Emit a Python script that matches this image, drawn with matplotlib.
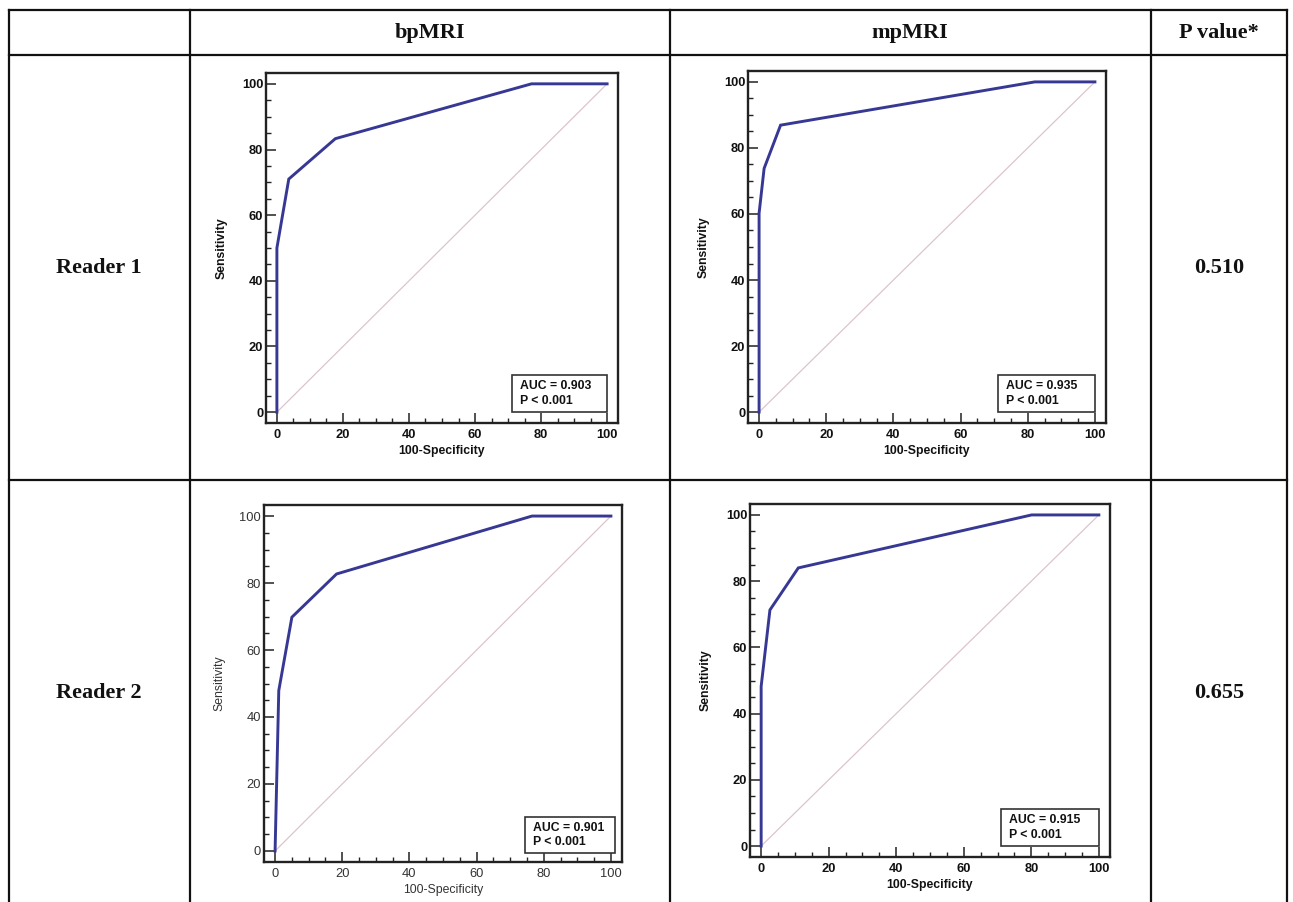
import matplotlib
matplotlib.use("Agg")
import matplotlib.pyplot as plt
from matplotlib.ticker import MultipleLocator
from matplotlib.patches import Rectangle
from matplotlib.lines import Line2D

# ---------------- data ----------------
col_headers = ["bpMRI", "mpMRI", "P value*"]
row_headers = ["Reader 1", "Reader 2"]
p_values = ["0.510", "0.655"]

r1_bp_fpr = [0, 0, 3.6, 17.7, 77.1, 100]
r1_bp_tpr = [0, 50, 71, 83.3, 100, 100]
r1_mp_fpr = [0, 0, 1.5, 6.4, 82.1, 100]
r1_mp_tpr = [0, 60.2, 73.8, 86.9, 100, 100]
r2_bp_fpr = [0, 1.1, 5.0, 18.3, 76.5, 100]
r2_bp_tpr = [0, 47.9, 69.8, 82.7, 100, 100]
r2_mp_fpr = [0, 0, 2.6, 11.0, 80.1, 100]
r2_mp_tpr = [0, 48.2, 71.3, 84.0, 100, 100]

auc_values = ["0.903", "0.935", "0.901", "0.915"]
auc_p = ["P < 0.001", "P < 0.001", "P < 0.001", "P < 0.001"]

x_ticks = [0, 20, 40, 60, 80, 100]
y_ticks = [0, 20, 40, 60, 80, 100]

# ---------------- figure ----------------
W, H = 1293, 902
fig = plt.figure(figsize=(W / 100, H / 100), dpi=100)
fig.patch.set_facecolor("white")

def fx(x):
    return x / W

def fy(y):
    return 1 - y / H

# table grid lines
tbl_kw = dict(color="#111111", lw=1.6, transform=fig.transFigure, zorder=0)
for y in [10, 55, 480]:
    fig.add_artist(Line2D([fx(9), fx(1287)], [fy(y), fy(y)], **tbl_kw))
for x in [9, 190, 670, 1151, 1287]:
    fig.add_artist(Line2D([fx(x), fx(x)], [fy(10), fy(902)], **tbl_kw))

serif = ["Liberation Serif", "DejaVu Serif"]
hdr_kw = dict(fontfamily=serif, fontweight="bold", fontsize=16, ha="center",
              va="center", color="#111111")
for cx, t in zip([430, 910, 1219], col_headers):
    fig.text(fx(cx), fy(33), t, **hdr_kw)
for cy, t, p in zip([268, 693], row_headers, p_values):
    fig.text(fx(99), fy(cy), t, **hdr_kw)
    fig.text(fx(1219), fy(cy), p, **hdr_kw)

# ---------------- ROC panels ----------------
sans = ["Liberation Sans", "DejaVu Sans"]
panels = [
    # frame box (px: left, top, right, bottom), fpr, tpr, bold, auc box (x0, y0, x1, y1)
    ((266, 73, 618, 423), r1_bp_fpr, r1_bp_tpr, True, (71.2, 0, 100, 11.3)),
    ((748, 71, 1106, 423), r1_mp_fpr, r1_mp_tpr, True, (71.1, 0, 100, 11.3)),
    ((264, 505, 622, 862), r2_bp_fpr, r2_bp_tpr, False, (74.3, -0.7, 101.2, 10.1)),
    ((750, 504, 1110, 857), r2_mp_fpr, r2_mp_tpr, True, (71.1, 0, 100, 11.3)),
]

for i, (box, fpr, tpr, bold, abox) in enumerate(panels):
    l, t, r, b = box
    ax = fig.add_axes([fx(l), fy(b), (r - l) / W, (b - t) / H])
    ax.set_xlim(-3.3, 103.3)
    ax.set_ylim(-3.3, 103.3)
    ax.plot([0, 100], [0, 100], color="#dcc4ca", lw=0.9, zorder=1)
    ax.plot(fpr, tpr, color="#373894", lw=2.1, solid_joinstyle="miter", zorder=3)

    for s in ax.spines.values():
        s.set_linewidth(1.7)
        s.set_color("#222222")
    ax.xaxis.set_minor_locator(MultipleLocator(5))
    ax.yaxis.set_minor_locator(MultipleLocator(5))
    ax.set_xticks(x_ticks)
    ax.set_yticks(y_ticks)
    txtcol = "#111111" if bold else "#333333"
    wt = "bold" if bold else "normal"
    ax.tick_params(which="major", direction="in", length=7.5, width=1.1,
                   color="#222222", labelsize=9.3, labelcolor=txtcol)
    ax.tick_params(which="minor", direction="in", length=3.5, width=1.0,
                   color="#222222")
    ax.tick_params(axis="y", which="major", pad=2)
    ax.tick_params(axis="x", which="major", pad=4)
    for lab in ax.get_xticklabels() + ax.get_yticklabels():
        lab.set_fontfamily(sans)
        lab.set_fontweight(wt)
    ax.set_xlabel("100-Specificity", fontfamily=sans, fontweight=wt,
                  fontsize=8.8, color=txtcol, labelpad=3)
    ax.set_ylabel("Sensitivity", fontfamily=sans, fontweight=wt,
                  fontsize=8.8, color=txtcol, labelpad=10)

    x0, y0, x1, y1 = abox
    ax.add_patch(Rectangle((x0, y0), x1 - x0, y1 - y0, fill=True,
                           facecolor="white", edgecolor="#333333", lw=1.2,
                           zorder=4, clip_on=False))
    hgt = y1 - y0
    ax.text(x0 + 2.4, y0 + 0.70 * hgt, "AUC = " + auc_values[i],
            fontfamily=sans, fontweight="bold", fontsize=8.8, color="#111111",
            ha="left", va="center", zorder=5)
    ax.text(x0 + 2.4, y0 + 0.30 * hgt, auc_p[i],
            fontfamily=sans, fontweight="bold", fontsize=8.8, color="#111111",
            ha="left", va="center", zorder=5)

fig.savefig("out.png", dpi=100, facecolor="white")
